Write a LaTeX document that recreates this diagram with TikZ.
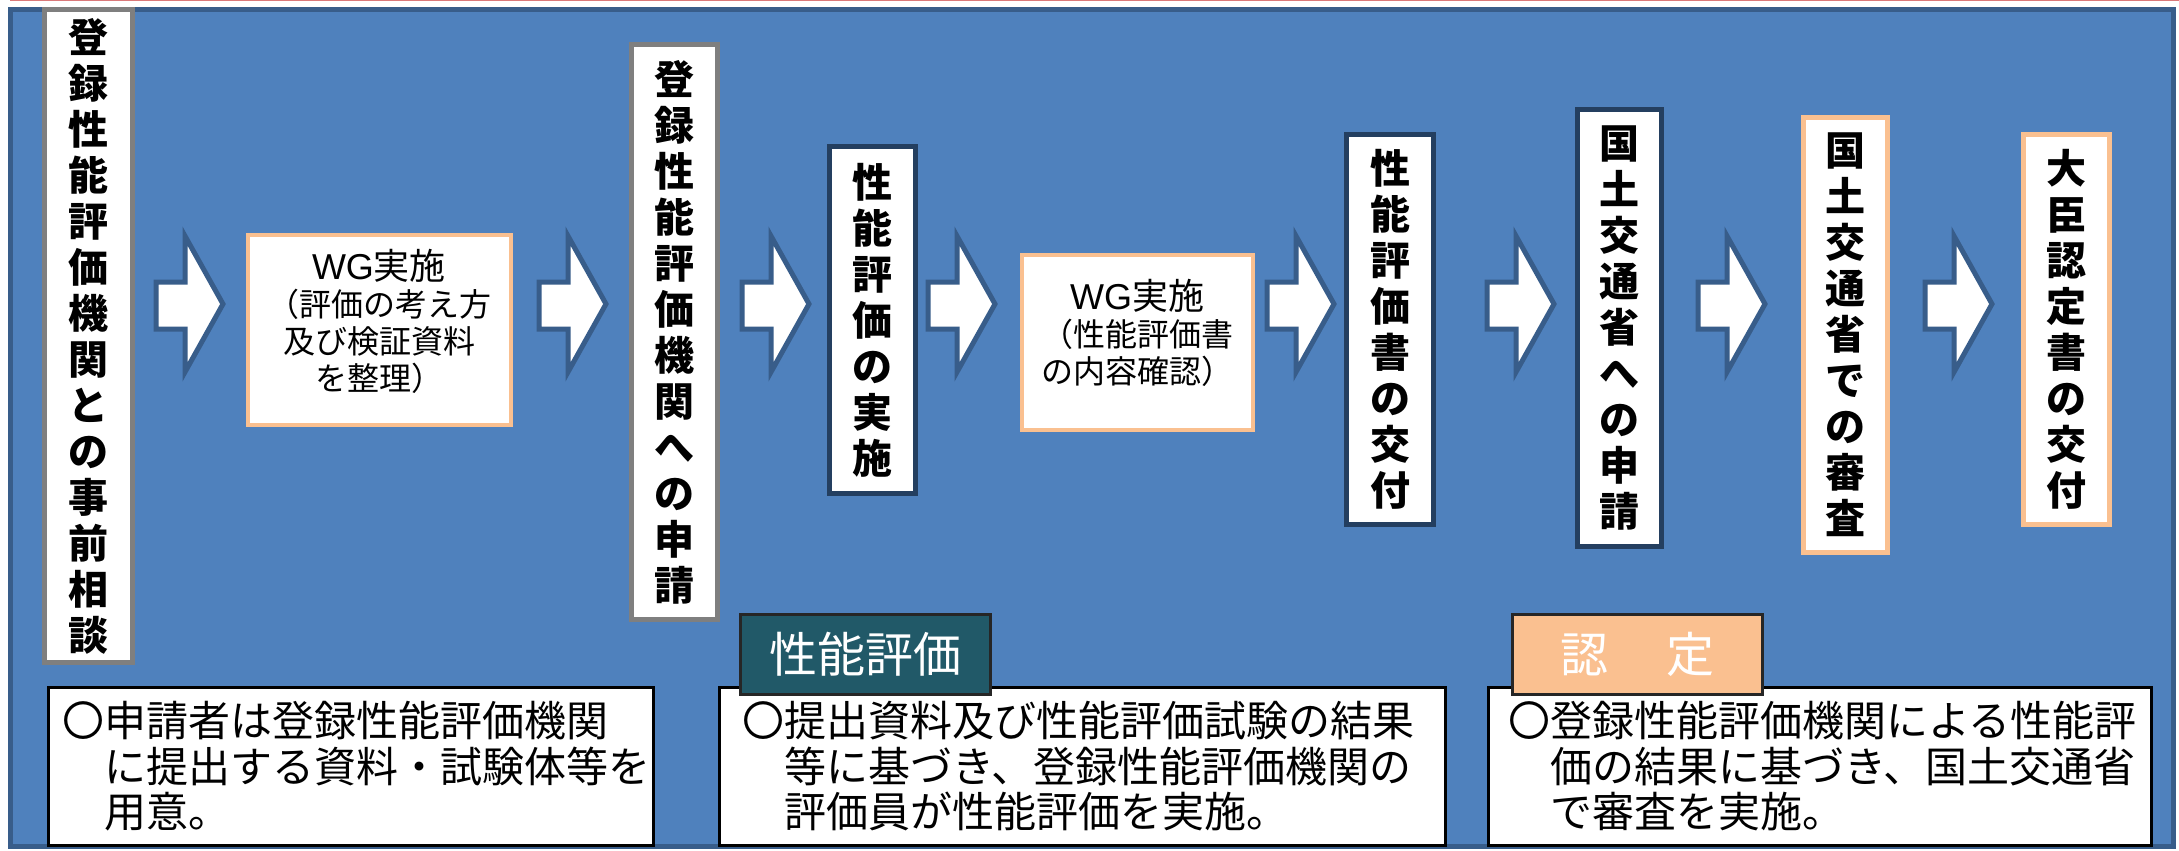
\documentclass[tikz,border=0pt]{standalone}
\usepackage{fontspec}
\setmainfont{Noto Sans CJK JP}
\newfontfamily\latfont{Liberation Sans}
\definecolor{bgblue}{HTML}{4F81BD}
\definecolor{bgedge}{HTML}{385D8A}
\definecolor{boxgray}{HTML}{7F7F7F}
\definecolor{boxnavy}{HTML}{243F60}
\definecolor{peach}{HTML}{FAC090}
\definecolor{teal}{HTML}{215968}
\definecolor{topred}{HTML}{D9797A}
\newcommand\blkarr[1]{\draw[blockarrow] (#1,282) -- (#1+29,282) -- (#1+29,236) -- (#1+67,304) -- (#1+29,372) -- (#1+29,329) -- (#1,329) -- cycle;}
\begin{document}
\begin{tikzpicture}[x=1pt,y=-1pt,
  vbox/.style={draw, fill=white, line width=5pt, inner sep=0pt, align=center,
    font=\bfseries\fontsize{40}{46}\selectfont},
  graybox/.style={vbox, draw=boxgray},
  navybox/.style={vbox, draw=boxnavy},
  peachbox/.style={vbox, draw=peach},
  wgbox/.style={draw=peach, fill=white, line width=4pt, inner sep=0pt},
  wgtext/.style={align=center, inner sep=0pt, font=\fontsize{32}{37}\selectfont},
  blockarrow/.style={draw=bgedge, fill=white, line width=5pt, line join=miter},
  notebox/.style={draw=black, fill=white, line width=3pt, inner sep=0pt},
  notetext/.style={inner sep=0pt, align=left, anchor=north west,
    font=\fontsize{42}{45.5}\selectfont},
  tagbox/.style={draw=black!85, line width=3pt, inner sep=0pt, text=white,
    font=\fontsize{48}{52}\selectfont}
]
\useasboundingbox (0,0) rectangle (2179,851);
\draw[topred, line width=1.5pt] (10,0.75) -- (2179,0.75);
\draw[bgedge, fill=bgblue, line width=5pt] (10.5,9.5) rectangle (2173.5,846.5);

% flow boxes
\node[graybox, minimum width=88pt, minimum height=652pt] (b1) at (88.5,336)
  {登\\録\\性\\能\\評\\価\\機\\関\\と\\の\\事\\前\\相\\談};
\node[wgbox, minimum width=263pt, minimum height=190pt] (w1) at (379,329.5) {};
\node[wgtext] (w1t) at (379,321)
  {{\fontsize{36}{37}\selectfont{\latfont WG}実施}\\（評価の考え方\\及び検証資料\\を整理）};
\node[graybox, minimum width=86pt, minimum height=574pt] (b2) at (674.5,332)
  {登\\録\\性\\能\\評\\価\\機\\関\\へ\\の\\申\\請};
\node[navybox, minimum width=86pt, minimum height=347pt] (b3) at (872.5,320)
  {性\\能\\評\\価\\の\\実\\施};
\node[wgbox, minimum width=231pt, minimum height=175pt] (w2) at (1137,342) {};
\node[wgtext] (w2t) at (1137,333)
  {{\fontsize{36}{37}\selectfont{\latfont WG}実施}\\（性能評価書\\の内容確認）};
\node[navybox, minimum width=87pt, minimum height=390pt] (b4) at (1390,329.5)
  {性\\能\\評\\価\\書\\の\\交\\付};
\node[navybox, minimum width=84pt, minimum height=437pt] (b5) at (1619.5,328)
  {国\\土\\交\\通\\省\\へ\\の\\申\\請};
\node[peachbox, minimum width=84pt, minimum height=435pt] (b6) at (1845.5,335)
  {国\\土\\交\\通\\省\\で\\の\\審\\査};
\node[peachbox, minimum width=86pt, minimum height=390pt] (b7) at (2066.5,329.5)
  {大\\臣\\認\\定\\書\\の\\交\\付};

% block arrows
\blkarr{156}
\blkarr{539}
\blkarr{742}
\blkarr{928}
\blkarr{1267}
\blkarr{1487}
\blkarr{1698}
\blkarr{1925}

% notes
\node[notebox, minimum width=605pt, minimum height=158pt] (n1) at (351,766) {};
\node[notetext] (t1) at (62,701)
  {〇申請者は登録性能評価機関\\\hspace*{1em}に提出する資料・試験体等を\\\hspace*{1em}用意。};
\node[notebox, minimum width=726pt, minimum height=158pt] (n2) at (1082,766) {};
\node[notetext] (t2) at (742,701)
  {〇提出資料及び性能評価試験の結果\\\hspace*{1em}等に基づき、登録性能評価機関の\\\hspace*{1em}評価員が性能評価を実施。};
\node[notebox, minimum width=663pt, minimum height=158pt] (n3) at (1819.5,766) {};
\node[notetext] (t3) at (1508,701)
  {〇登録性能評価機関による性能評\\\hspace*{1em}価の結果に基づき、国土交通省\\\hspace*{1em}で審査を実施。};

% tags
\node[tagbox, fill=teal, minimum width=250pt, minimum height=80pt] (g1) at (865,654) {性能評価};
\node[tagbox, fill=peach, minimum width=250pt, minimum height=80pt] (g2) at (1637,654) {認\hspace{58pt}定};
\end{tikzpicture}
\end{document}
